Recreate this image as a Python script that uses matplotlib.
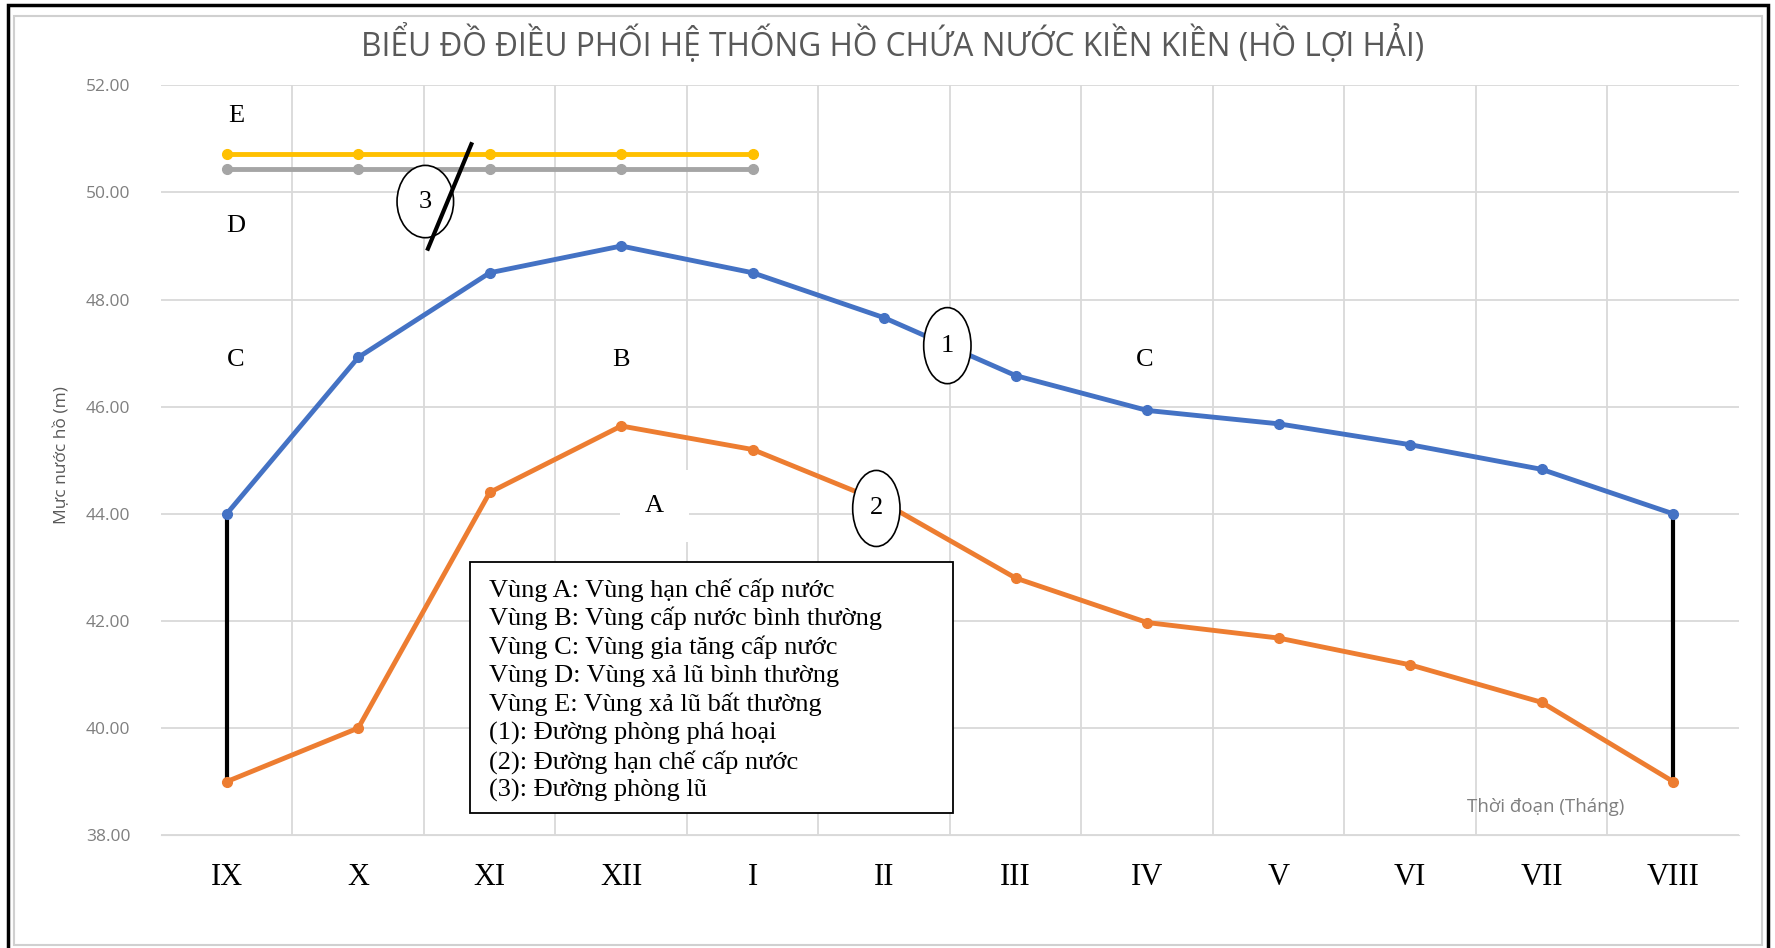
import numpy as np
import matplotlib.pyplot as plt
from matplotlib.patches import Ellipse, Rectangle

# data
months = ['IX', 'X', 'XI', 'XII', 'I', 'II', 'III', 'IV', 'V', 'VI', 'VII', 'VIII']
line1 = [44.0, 46.92, 48.5, 49.0, 48.5, 47.66, 46.58, 45.93, 45.68, 45.29, 44.83, 44.0]
line2 = [39.0, 40.0, 44.4, 45.64, 45.2, 44.2, 42.8, 41.97, 41.68, 41.18, 40.48, 39.0]
line_e = [50.71, 50.71, 50.71, 50.71, 50.71]
line_d = [50.43, 50.43, 50.43, 50.43, 50.43]
flood_x = [1.53, 1.86]
flood_y = [48.95, 50.9]

zones = ['E', 'D', 'C', 'B', 'C', 'A']
zone_x = [0.07, 0.07, 0.07, 3.0, 6.98, 3.25]
zone_y = [51.43, 49.38, 46.87, 46.87, 46.87, 44.15]

marks = ['3', '1', '2']
mark_x = [1.51, 5.48, 4.94]
mark_y = [49.83, 47.14, 44.10]

legend_lines = ['Vùng A: Vùng hạn chế cấp nước',
                'Vùng B: Vùng cấp nước bình thường',
                'Vùng C: Vùng gia tăng cấp nước',
                'Vùng D: Vùng xả lũ bình thường',
                'Vùng E: Vùng xả lũ bất thường',
                '(1): Đường phòng phá hoại',
                '(2): Đường hạn chế cấp nước',
                '(3): Đường phòng lũ']

serif = 'Liberation Serif'
x = np.arange(len(months))

fig = plt.figure(figsize=(17.75, 9.48), dpi=100)
ax = fig.add_axes([0.0907, 0.119, 0.889, 0.791])

ax.set_xlim(-0.5, 11.5)
ax.set_ylim(38, 52)
ax.set_yticks(np.arange(38, 53, 2))
ax.set_yticklabels(['%.2f' % v for v in np.arange(38, 53, 2)],
                   fontsize=12.5, color='#7f7f7f', family='Open Sans')
ax.set_xticks(x)
ax.set_xticklabels(months, fontsize=22, family=serif)
ax.tick_params(axis='x', length=0, pad=20)
ax.tick_params(axis='y', length=0, pad=22)
ax.set_xticks(np.arange(0.5, 11, 1), minor=True)
ax.tick_params(axis='x', which='minor', length=0)
ax.grid(True, axis='y', color='#d9d9d9', lw=1.3)
ax.grid(True, axis='x', which='minor', color='#d9d9d9', lw=1.3)
for s in ax.spines.values():
    s.set_visible(False)
ax.spines['bottom'].set_visible(True)
ax.spines['bottom'].set_color('#d9d9d9')
ax.set_axisbelow(True)

# vertical black links at both ends
ax.plot([x[0], x[0]], [line1[0], line2[0]], color='black', lw=3, zorder=3)
ax.plot([x[-1], x[-1]], [line1[-1], line2[-1]], color='black', lw=3, zorder=3)

ax.plot(x, line1, color='#4472c4', lw=3.5, marker='o', ms=7, zorder=4)
ax.plot(x, line2, color='#ed7d31', lw=3.5, marker='o', ms=7, zorder=4)
ax.plot(x[:5], line_e, color='#ffc000', lw=3.5, marker='o', ms=7, zorder=4)
ax.plot(x[:5], line_d, color='#a5a5a5', lw=3.5, marker='o', ms=7, zorder=4)

for m, mx, my in zip(marks, mark_x, mark_y):
    w = 0.43 if m == '3' else 0.36
    h = 1.35 if m == '3' else 1.42
    ax.add_patch(Ellipse((mx, my), w, h, facecolor='white', edgecolor='black', lw=1.2, zorder=5))
    ax.text(mx, my, m, fontsize=19, family=serif, ha='center', va='center', zorder=6)

ax.plot(flood_x, flood_y, color='black', lw=3, zorder=7)

for z, zx, zy in zip(zones, zone_x, zone_y):
    ax.text(zx, zy, z, fontsize=19, family=serif, ha='center', va='center', zorder=6,
            bbox=dict(facecolor='white', edgecolor='none', pad=10 if z != 'A' else 18))

# notes box
ax.add_patch(Rectangle((0.196, 0.029), 0.306, 0.335, transform=ax.transAxes,
                       facecolor='white', edgecolor='black', lw=1.3, zorder=8))
for i, t in enumerate(legend_lines):
    ax.text(0.208, 0.327 - i * 0.0382, t, transform=ax.transAxes, fontsize=19,
            family=serif, ha='left', va='center', zorder=9)

ax.text(10.03, 38.53, 'Thời đoạn (Tháng)', fontsize=13.5, color='#7f7f7f',
        family='Open Sans', ha='center', va='center')

fig.text(0.035, 0.52, 'Mực nước hồ (m)', rotation=90, fontsize=12.5, color='#595959',
         family='Open Sans', ha='center', va='center')
fig.text(0.503, 0.954, 'BIỂU ĐỒ ĐIỀU PHỐI HỆ THỐNG HỒ CHỨA NƯỚC KIỀN KIỀN (HỒ LỢI HẢI)',
         fontsize=22.8, color='#595959', family='Open Sans', ha='center', va='center')

# outer frames
fig.patches.append(Rectangle((14 / 1775, 0.003), 1748 / 1775, 0.98, transform=fig.transFigure,
                             fill=False, edgecolor='#d0d0d0', lw=1.5))
fig.patches.append(Rectangle((8 / 1775, -0.01), 1760 / 1775, 1 - 5 / 948 + 0.01,
                             transform=fig.transFigure, fill=False, edgecolor='black', lw=2.5))

fig.savefig('out.png', dpi=100)
